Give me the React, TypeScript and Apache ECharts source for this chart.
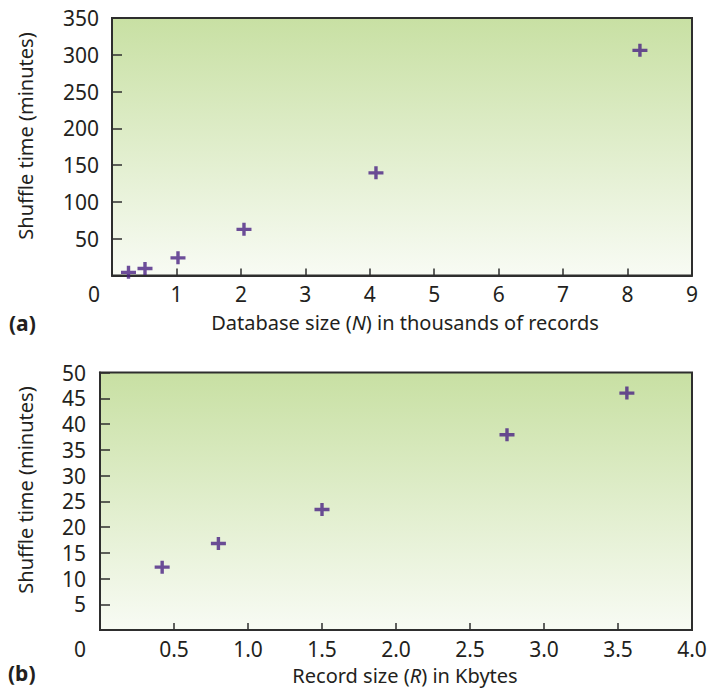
import React, { useEffect, useRef } from "react";
import * as echarts from "echarts";

// Panel (a): database size N (thousands of records) vs shuffle time (minutes)
const dbSizeN = [0.256, 0.512, 1.024, 2.048, 4.096, 8.192];
const shuffleTimeA = [4.3, 9.6, 24, 62.7, 139.5, 306];
// Panel (b): record size R (Kbytes) vs shuffle time (minutes)
const recordSizeR = [0.42, 0.8, 1.5, 2.75, 3.56];
const shuffleTimeB = [12.2, 16.8, 23.4, 37.9, 46];

const axisA = { xMin: 0, xMax: 9, xStep: 1, yMin: 0, yMax: 350, yStep: 50 };
const axisB = { xMin: 0, xMax: 4, xStep: 0.5, yMin: 0, yMax: 50, yStep: 5 };

const FONT = "Noto Sans";
const TXT = "#231f20";
const PLUS = "path://M0,4.8H5.8V0H9.2V4.8H15V8.2H9.2V13H5.8V8.2H0Z";

export default function App() {
  const ref = useRef<HTMLDivElement>(null);
  useEffect(() => {
    if (!ref.current) return;
    const chart = echarts.init(ref.current, undefined, { renderer: "svg" });
    const bg = new echarts.graphic.LinearGradient(0, 0, 0, 1, [
      { offset: 0, color: "#c8e0a3" },
      { offset: 1, color: "#f8fbf4" },
    ]);
    const grid = (left: number, top: number, width: number, height: number) => ({
      left,
      top,
      width,
      height,
      show: true,
      backgroundColor: bg,
      borderColor: "#2e2e2e",
      borderWidth: 2,
    });
    const xAxis = (gi: number, ax: any, fmt: (v: number) => string, shift: number) => ({
      type: "value",
      gridIndex: gi,
      min: ax.xMin,
      max: ax.xMax,
      interval: ax.xStep,
      splitLine: { show: false },
      axisLine: { show: true, lineStyle: { color: "#2e2e2e", width: 2 } },
      axisTick: { show: true, inside: true, length: 7, lineStyle: { color: "#2e2e2e", width: 1.5 } },
      axisLabel: {
        margin: 8,
        fontFamily: FONT,
        fontSize: 21,
        color: TXT,
        showMinLabel: true,
        showMaxLabel: true,
        formatter: (v: number) => (v === 0 ? "{o|0}" : fmt(v)),
        rich: { o: { fontFamily: FONT, fontSize: 21, color: TXT, padding: [0, shift, 0, 0] } },
      },
    });
    const yAxis = (gi: number, ax: any, margin: number) => ({
      type: "value",
      gridIndex: gi,
      min: ax.yMin,
      max: ax.yMax,
      interval: ax.yStep,
      splitLine: { show: false },
      axisLine: { show: true, lineStyle: { color: "#2e2e2e", width: 2 } },
      axisTick: { show: true, inside: true, length: 10, lineStyle: { color: "#2e2e2e", width: 1.5 } },
      axisLabel: {
        margin,
        fontFamily: FONT,
        fontSize: 21,
        color: TXT,
        showMaxLabel: true,
        formatter: (v: number) => (v === 0 ? "" : String(v)),
      },
    });
    const titleStyle = { fontFamily: FONT, fontSize: 20, lineHeight: 22, fill: TXT };
    const rich = { i: { fontFamily: FONT, fontSize: 20, lineHeight: 22, fontStyle: "italic", color: TXT } };
    chart.setOption({
      animation: false,
      backgroundColor: "#ffffff",
      grid: [grid(112, 18, 580, 257.5), grid(100, 372.5, 592, 257.5)],
      xAxis: [
        xAxis(0, axisA, (v) => String(v), 36),
        xAxis(1, axisB, (v) => v.toFixed(1), 40),
      ],
      yAxis: [yAxis(0, axisA, 13), yAxis(1, axisB, 14)],
      series: [
        {
          type: "scatter",
          xAxisIndex: 0,
          yAxisIndex: 0,
          symbol: PLUS,
          symbolSize: [15, 13],
          itemStyle: { color: "#4a2283" },
          data: dbSizeN.map((x, i) => [x, shuffleTimeA[i]]),
        },
        {
          type: "scatter",
          xAxisIndex: 1,
          yAxisIndex: 1,
          symbol: PLUS,
          symbolSize: [15, 13],
          itemStyle: { color: "#4a2283" },
          data: recordSizeR.map((x, i) => [x, shuffleTimeB[i]]),
        },
      ],
      graphic: [
        {
          type: "text",
          x: 25,
          y: 136,
          rotation: Math.PI / 2,
          style: { ...titleStyle, text: "Shuffle time (minutes)", align: "center", verticalAlign: "middle" },
        },
        {
          type: "text",
          x: 25,
          y: 490,
          rotation: Math.PI / 2,
          style: { ...titleStyle, text: "Shuffle time (minutes)", align: "center", verticalAlign: "middle" },
        },
        {
          type: "text",
          x: 405,
          y: 322,
          style: {
            ...titleStyle,
            text: "Database size ({i|N}) in thousands of records",
            rich,
            align: "center",
            verticalAlign: "middle",
          },
        },
        {
          type: "text",
          x: 405,
          y: 675,
          style: {
            ...titleStyle,
            text: "Record size ({i|R}) in Kbytes",
            rich,
            align: "center",
            verticalAlign: "middle",
          },
        },
        {
          type: "text",
          x: 9,
          y: 323,
          style: { fontFamily: FONT, fontSize: 21, lineHeight: 22, fontWeight: "bold", fill: TXT, text: "(a)", verticalAlign: "middle" },
        },
        {
          type: "text",
          x: 8,
          y: 673,
          style: { fontFamily: FONT, fontSize: 21, lineHeight: 22, fontWeight: "bold", fill: TXT, text: "(b)", verticalAlign: "middle" },
        },
      ],
    });
    return () => chart.dispose();
  }, []);
  return (
    <div
      ref={ref}
      style={{ position: "fixed", left: 0, top: 0, width: 721, height: 688 }}
    />
  );
}
